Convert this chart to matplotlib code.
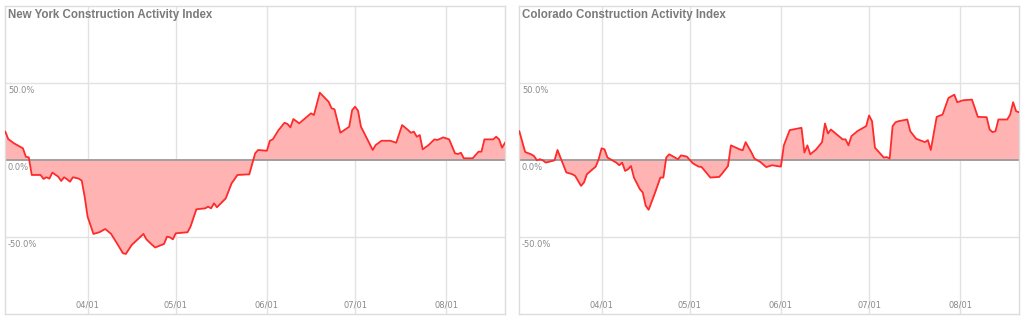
import matplotlib
matplotlib.use('Agg')
import matplotlib.pyplot as plt
import matplotlib.transforms as mtransforms
import pandas as pd

# New York index (daily, %)
ny_dates = ['03-04', '03-05', '03-07', '03-10', '03-11', '03-12', '03-13', '03-16', '03-17', '03-18',
            '03-19', '03-20', '03-22', '03-23', '03-24', '03-25', '03-26', '03-27', '03-29', '03-30',
            '03-31', '04-01', '04-03', '04-05', '04-07', '04-09', '04-11', '04-13', '04-14', '04-16',
            '04-20', '04-21', '04-23', '04-24', '04-27', '04-28', '04-29', '04-30', '05-01', '05-05',
            '05-06', '05-08', '05-11', '05-12', '05-13', '05-14', '05-15', '05-18', '05-20', '05-22',
            '05-26', '05-28', '05-29', '06-01', '06-02', '06-03', '06-05', '06-07', '06-08', '06-09',
            '06-10', '06-12', '06-16', '06-17', '06-19', '06-22', '06-23', '06-24', '06-26', '06-29',
            '06-30', '07-01', '07-02', '07-03', '07-05', '07-07', '07-08', '07-10', '07-13', '07-15',
            '07-17', '07-19', '07-20', '07-21', '07-22', '07-23', '07-24', '07-26', '07-28', '07-29',
            '07-31', '08-02', '08-04', '08-05', '08-06', '08-07', '08-10', '08-12', '08-13', '08-14',
            '08-17', '08-18', '08-19', '08-20', '08-21']
ny_values = [18.4, 13.6, 10.8, 7.6, 2.1, 1.7, -9.7, -9.7, -12.3, -11.2,
             -12.1, -8.2, -10.8, -13.6, -11.2, -12.5, -14.1, -11.2, -12.1, -13.4,
             -23.8, -36.8, -48.0, -46.9, -44.8, -48.0, -54.1, -60.5, -61.0, -55.2,
             -48.0, -51.5, -55.2, -56.8, -54.5, -49.8, -50.2, -51.5, -47.6, -46.9,
             -43.3, -32.0, -31.4, -30.3, -31.4, -28.1, -30.7, -24.9, -15.1, -9.7,
             -9.3, 4.3, 6.5, 6.0, 12.5, 13.4, 19.5, 24.2, 23.4, 21.2,
             26.6, 23.8, 30.3, 29.2, 43.7, 37.8, 33.6, 32.9, 17.7, 21.6,
             32.4, 34.6, 32.0, 21.6, 14.1, 6.5, 9.7, 12.5, 12.5, 11.2,
             22.7, 19.5, 17.7, 18.4, 15.1, 16.2, 6.9, 9.7, 13.4, 13.0,
             14.7, 13.4, 4.3, 3.9, 4.7, 1.1, 1.1, 5.4, 5.4, 13.4,
             13.4, 15.1, 13.4, 8.0, 11.2]

# Colorado index (daily, %)
co_dates = ['03-04', '03-06', '03-08', '03-09', '03-10', '03-11', '03-12', '03-13', '03-16', '03-17',
            '03-18', '03-20', '03-22', '03-23', '03-25', '03-26', '03-27', '03-30', '03-31', '04-01',
            '04-02', '04-03', '04-06', '04-07', '04-08', '04-09', '04-10', '04-11', '04-12', '04-14',
            '04-15', '04-16', '04-17', '04-19', '04-21', '04-22', '04-23', '04-24', '04-27', '04-28',
            '04-30', '05-02', '05-04', '05-05', '05-08', '05-11', '05-12', '05-14', '05-15', '05-18',
            '05-19', '05-20', '05-22', '05-23', '05-25', '05-27', '05-29', '06-01', '06-02', '06-04',
            '06-08', '06-09', '06-10', '06-11', '06-13', '06-15', '06-16', '06-17', '06-18', '06-20',
            '06-22', '06-23', '06-24', '06-25', '06-27', '06-30', '07-01', '07-02', '07-03', '07-06',
            '07-07', '07-08', '07-09', '07-10', '07-11', '07-14', '07-15', '07-17', '07-20', '07-21',
            '07-22', '07-24', '07-26', '07-28', '07-30', '07-31', '08-02', '08-05', '08-07', '08-10',
            '08-11', '08-12', '08-13', '08-14', '08-17', '08-18', '08-19', '08-20', '08-21']
co_values = [18.7, 5.2, 3.7, 2.6, -0.2, 0.5, -0.2, -1.7, -0.2, 6.5,
             1.6, -8.1, -9.2, -10.3, -16.8, -14.6, -9.2, -4.3, 0.5, 7.6,
             6.9, 1.6, -1.7, -3.4, -1.7, -7.1, -6.0, -3.9, -11.4, -18.9,
             -21.1, -29.7, -32.3, -22.2, -11.4, -11.4, 1.6, 3.7, 0.5, 3.0,
             2.2, -2.1, -4.3, -4.5, -11.4, -11.0, -8.8, -3.9, 9.5, 6.9,
             6.3, 11.6, 4.8, 0.9, -1.3, -4.6, -3.4, -4.3, 9.5, 19.4,
             20.9, 4.8, 9.5, 3.7, 6.9, 11.6, 23.7, 17.2, 19.8, 16.6,
             13.4, 13.4, 9.5, 15.5, 18.7, 22.0, 28.9, 25.2, 8.0, 1.6,
             1.9, 0.9, 22.0, 24.5, 25.2, 26.3, 18.7, 13.8, 11.6, 12.9,
             6.5, 28.0, 29.5, 40.3, 42.4, 37.5, 38.8, 39.2, 28.0, 27.8,
             19.8, 18.1, 18.7, 26.3, 26.3, 29.5, 37.5, 31.7, 31.0]

titles = ['New York Construction Activity Index', 'Colorado Construction Activity Index']
y_ticks = [-50, 0, 50]
y_tick_labels = ['-50.0%', '0.0%', '50.0%']
x_ticks = ['04-01', '05-01', '06-01', '07-01', '08-01']
x_tick_labels = ['04/01', '05/01', '06/01', '07/01', '08/01']

YEAR = '2020-'
LINE = '#ff2a2a'
FILL = '#ffb3b3'
GRID = '#e2e2e2'
TXT = '#8a8a8a'

fig = plt.figure(figsize=(10.24, 3.23), dpi=100)
boxes = [[5 / 1024, 9 / 323, 500 / 1024, 308 / 323],
         [519 / 1024, 9 / 323, 500 / 1024, 308 / 323]]

for box, title, dates, values in zip(boxes, titles, [ny_dates, co_dates], [ny_values, co_values]):
    ax = fig.add_axes(box)
    x = pd.to_datetime([YEAR + d for d in dates])
    xt = pd.to_datetime([YEAR + d for d in x_ticks])

    ax.set_xlim(x[0] - pd.Timedelta(days=0.1), x[-1])
    ax.set_ylim(-100, 100)

    for t in xt:
        ax.axvline(t, color=GRID, lw=1, zorder=0)
    for v in y_ticks:
        if v != 0:
            ax.axhline(v, color=GRID, lw=1, zorder=0)

    ax.fill_between(x, values, 0, color=FILL, lw=0, zorder=1)
    ax.axhline(0, color='#9a9a9a', lw=1.3, zorder=2)
    ax.plot(x, values, color=LINE, lw=1.3, zorder=3)

    ax.set_xticks([])
    ax.set_yticks([])
    for s in ax.spines.values():
        s.set_color('#dcdcdc')
        s.set_linewidth(1)

    # tick labels drawn inside the plot area
    ytr = mtransforms.blended_transform_factory(ax.transAxes, ax.transData)
    for v, lab in zip(y_ticks, y_tick_labels):
        ax.text(0.006, v - 2, lab, transform=ytr, fontsize=6, color=TXT,
                ha='left', va='top', family='DejaVu Sans')
    xtr = mtransforms.blended_transform_factory(ax.transData, ax.transAxes)
    for t, lab in zip(xt, x_tick_labels):
        ax.text(t, 0.028, lab, transform=xtr, fontsize=6, color=TXT,
                ha='center', va='center', family='DejaVu Sans')

    ax.text(0.006, 0.99, title, transform=ax.transAxes, fontsize=8.3,
            fontweight='bold', color='#7a7a7a', ha='left', va='top',
            family=['Liberation Sans', 'DejaVu Sans'])

fig.savefig('out.png', dpi=100)
